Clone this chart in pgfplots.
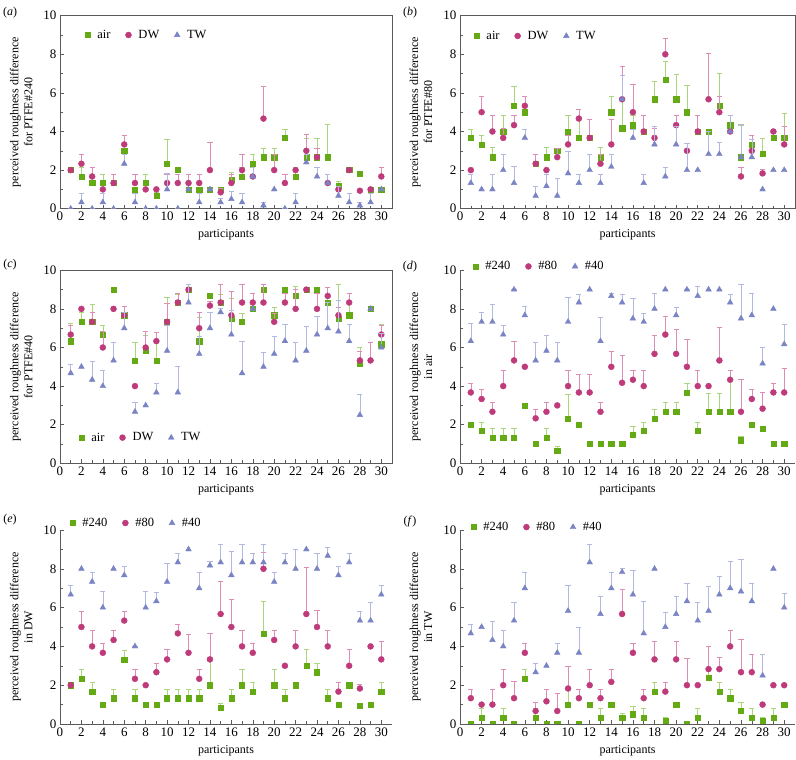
\documentclass[border=0pt]{standalone}
\usepackage{fontspec}
\setmainfont{Liberation Serif}
\usepackage{pgfplots}
\usepackage{pgfplotstable}
\pgfplotsset{compat=1.18}
\definecolor{cgreen}{RGB}{100,170,20}
\definecolor{cmag}{RGB}{190,58,122}
\definecolor{cblue}{RGB}{122,132,196}
\definecolor{cgreenL}{RGB}{172,214,125}
\definecolor{cmagL}{RGB}{222,142,182}
\definecolor{cblueL}{RGB}{178,185,224}
\definecolor{axc}{RGB}{90,90,90}

% air #240
\pgfplotstableread{
x y e
1 2.0 0
2 1.67 0.47
3 1.33 0.47
4 1.33 0.47
5 1.33 0.47
6 3.0 0
7 1.0 0
8 1.33 0.47
9 0.67 0.2
10 2.33 1.27
11 2.0 0
12 1.0 0
13 1.0 0
14 1.0 0
15 1.0 0
16 1.5 0.4
17 1.67 0.47
18 2.33 0.47
19 2.67 0.47
20 2.67 0.47
21 3.67 0.47
22 1.67 0.47
23 2.67 0.97
24 2.67 0.97
25 2.67 1.7
26 1.2 0.2
27 2.0 0
28 1.8 0.1
29 1.0 0
30 1.0 0
}\Atwo
% DW #240
\pgfplotstableread{
x y e
1 2.0 0
2 2.33 0.47
3 1.67 0.47
4 1.0 0
5 1.33 0.47
6 3.33 0.47
7 1.33 0.47
8 1.0 0
9 1.0 0
10 1.33 0.47
11 1.33 0.47
12 1.33 0.47
13 1.33 0.47
14 2.0 1.43
15 0.85 0.2
16 1.33 0.47
17 2.0 0.82
18 1.67 0.47
19 4.67 1.68
20 2.0 0.82
21 1.33 0.47
22 2.0 0
23 3.0 0.85
24 2.67 0.47
25 1.33 0.47
26 1.0 0
27 2.0 0
28 0.93 0.1
29 1.0 0
30 1.67 0.47
}\Dtwo
% TW #240
\pgfplotstableread{
x y e
1 0 0
2 0.33 0.47
3 0 0
4 0.33 0.47
5 0 0
6 2.33 0.47
7 0.33 0.47
8 0 0
9 0 0
10 1.0 0.83
11 0 0
12 1.0 0
13 0.33 0.47
14 1.0 0
15 0.33 0.2
16 0.5 0.4
17 0.33 0.47
18 1.67 0.47
19 0.17 0.17
20 1.0 0
21 0 0
22 0.33 0.47
23 2.4 0.43
24 1.67 0.47
25 1.33 0.47
26 0.67 0.47
27 0.33 0.47
28 0.17 0.17
29 0.33 0.47
30 1.0 0
}\Ttwo
% air #80
\pgfplotstableread{
x y e
1 3.67 0.47
2 3.33 0.5
3 2.67 0.5
4 4.0 0.83
5 5.33 1.0
6 5.0 0
7 2.33 0.47
8 2.67 0.5
9 3.0 0
10 4.0 0.83
11 3.67 0.95
12 3.67 0.95
13 2.67 0.5
14 5.0 0.83
15 4.17 1.43
16 4.33 0.5
17 4.0 0.83
18 5.67 0.95
19 6.67 0.95
20 5.67 1.27
21 5.0 1.42
22 4.0 0.83
23 4.0 0
24 5.33 1.7
25 4.33 0.5
26 2.67 1.67
27 3.33 0.5
28 2.83 0.83
29 3.67 0.47
30 3.67 1.25
}\Aeig
% DW #80
\pgfplotstableread{
x y e
1 2.0 0
2 5.0 0.82
3 4.0 0.83
4 3.67 0.48
5 4.33 0.5
6 5.33 0.48
7 2.33 0.47
8 2.0 0
9 2.67 0.47
10 3.33 0.5
11 4.67 0.48
12 3.67 0.98
13 2.33 0.47
14 3.33 1.33
15 5.67 1.7
16 5.0 1.43
17 4.0 0.83
18 3.67 0.48
19 8.0 0.85
20 4.33 0.5
21 3.0 0
22 4.0 0.83
23 5.67 2.4
24 5.0 0.85
25 4.0 0.83
26 1.67 0.47
27 3.0 0.83
28 1.83 0.2
29 4.0 0
30 3.33 0.95
}\Deig
% TW #80
\pgfplotstableread{
x y e
1 1.33 0.47
2 1.0 0
3 1.0 0.8
4 2.0 0.83
5 1.33 0.86
6 3.67 0.47
7 0.67 0.47
8 1.17 0.64
9 0.67 0.92
10 1.83 1.17
11 1.33 0.47
12 2.0 0.83
13 1.33 0.47
14 2.17 0.66
15 5.67 1.25
16 3.67 0.47
17 1.33 0.47
18 3.33 0.95
19 1.67 0.47
20 3.33 0.95
21 2.0 1.38
22 2.0 0
23 2.83 1.17
24 2.83 0.6
25 4.0 0.83
26 2.67 1.7
27 2.67 0.92
28 1.0 0
29 2.0 0
30 2.0 0
}\Teig
% air #40
\pgfplotstableread{
x y e
1 6.33 0.95
2 7.33 0.48
3 7.33 0.93
4 6.67 0.47
5 9.0 0
6 7.67 0.48
7 5.33 0.94
8 5.83 0.82
9 5.33 0.94
10 7.33 1.26
11 8.33 0.45
12 9.0 0
13 6.33 1.24
14 8.67 0.16
15 8.33 0.45
16 7.5 1.07
17 7.33 0.47
18 8.0 0.8
19 9.0 0
20 7.67 0.43
21 9.0 0
22 8.67 0.49
23 9.0 0
24 9.0 0
25 8.33 0.45
26 7.5 1.77
27 7.67 1.16
28 5.17 0.83
29 8.0 0
30 6.17 1.01
}\Afor
% DW #40
\pgfplotstableread{
x y e
1 6.67 0.48
2 8.0 0
3 7.33 0.49
4 6.0 0.83
5 8.0 0
6 7.67 0.48
7 4.0 0
8 6.0 0.83
9 6.33 0.48
10 7.33 0.97
11 8.33 0.48
12 9.0 0
13 7.0 0.82
14 8.17 0.22
15 8.33 0.95
16 7.67 1.24
17 8.33 0.93
18 8.33 0.46
19 8.33 0.93
20 7.33 0.47
21 8.33 0.46
22 8.0 1.03
23 9.0 0
24 8.0 0.81
25 8.67 0.45
26 7.67 0.44
27 8.33 0.46
28 5.33 0.46
29 5.33 0.95
30 6.67 0.48
}\Dfor
% TW #40
\pgfplotstableread{
x y e
1 4.67 0.48
2 5.0 0
3 4.33 0.95
4 4.0 0.82
5 5.33 0.93
6 7.0 0.82
7 2.67 0.47
8 3.0 0
9 3.67 0.47
10 5.83 1.3
11 3.67 1.34
12 8.33 0.95
13 5.67 0.93
14 7.0 0.81
15 7.83 0.21
16 6.67 1.24
17 4.67 1.67
18 8.0 0
19 5.0 0.76
20 5.67 0.91
21 6.33 0.9
22 5.33 0.93
23 5.83 1.29
24 6.67 0.93
25 7.0 1.37
26 6.83 1.64
27 6.33 0.9
28 2.5 1.07
29 8.0 0
30 6.0 0.76
}\Tfor

\pgfplotsset{
  panel/.style={
    scale only axis,
    xmin=0, xmax=31, ymin=0, ymax=10,
    xtick={0,2,...,30}, ytick={0,2,...,10},
    minor xtick={1,3,...,29}, minor ytick={1,3,...,9},
    tick align=inside, xtick pos=bottom, ytick pos=left,
    major tick length=4pt, minor tick length=3pt,
    axis line style={axc, line width=0.6pt},
    every tick/.style={axc, line width=0.5pt},
    /pgf/number format/assume math mode=true,
    font=\fontsize{12}{14}\selectfont,
    tick label style={font=\fontsize{13}{15}\selectfont},
    xlabel={participants},
    xlabel style={yshift=-2pt},
    ylabel style={align=center, at={(axis description cs:-0.072,0.5)}, anchor=south},
    clip marker paths=true,
    legend style={draw=none, fill=none, legend columns=-1, anchor=west,
      font=\fontsize{12.5}{14}\selectfont,
      /tikz/every odd column/.append style={column sep=5pt},
      /tikz/every even column/.append style={column sep=13pt}},
  },
  openaxis/.style={axis x line*=bottom, axis y line*=left},
  sg/.style={only marks, mark=square*, mark size=2.6pt, color=cgreen,
    error bars/.cd, y dir=plus, y explicit,
    error bar style={cgreenL, line width=0.5pt},
    error mark options={rotate=90, mark size=2.6pt, cgreenL, line width=0.5pt}},
  sm/.style={only marks, mark=*, mark size=3pt, color=cmag,
    error bars/.cd, y dir=plus, y explicit,
    error bar style={cmagL, line width=0.5pt},
    error mark options={rotate=90, mark size=2.6pt, cmagL, line width=0.5pt}},
  sb/.style={only marks, mark=triangle*, mark size=3.3pt, color=cblue,
    error bars/.cd, y dir=plus, y explicit,
    error bar style={cblueL, line width=0.5pt},
    error mark options={rotate=90, mark size=2.6pt, cblueL, line width=0.5pt}},
}

\begin{document}
\begin{tikzpicture}[font=\fontsize{12}{14}\selectfont]
\useasboundingbox (0pt,0pt) rectangle (796pt,760pt);

% (a)
\begin{axis}[panel, at={(60pt,551.3pt)}, anchor=south west, width=332pt, height=193pt,
  ylabel={perceived roughness difference\\for PTFE\#240},
  legend style={at={(axis description cs:0.066,0.9)}}]
\addplot[sg] table[x=x,y=y,y error=e]{\Atwo};
\addplot[sm] table[x=x,y=y,y error=e]{\Dtwo};
\addplot[sb] table[x=x,y=y,y error=e]{\Ttwo};
\legend{air,DW,TW}
\end{axis}

% (b)
\begin{axis}[panel, at={(460pt,551.3pt)}, anchor=south west, width=335pt, height=193pt,
  ylabel={perceived roughness difference\\for PTFE\#80},
  legend style={at={(axis description cs:0.033,0.895)}}]
\addplot[sg] table[x=x,y=y,y error=e]{\Aeig};
\addplot[sm] table[x=x,y=y,y error=e]{\Deig};
\addplot[sb] table[x=x,y=y,y error=e]{\Teig};
\legend{air,DW,TW}
\end{axis}

% (c)
\begin{axis}[panel, at={(60pt,296.7pt)}, anchor=south west, width=332pt, height=193pt,
  ylabel={perceived roughness difference\\for PTFE\#40},
  legend style={at={(axis description cs:0.048,0.133)}}]
\addplot[sg] table[x=x,y=y,y error=e]{\Afor};
\addplot[sm] table[x=x,y=y,y error=e]{\Dfor};
\addplot[sb] table[x=x,y=y,y error=e]{\Tfor};
\legend{air,DW,TW}
\end{axis}

% (d)
\begin{axis}[panel, openaxis, at={(460pt,296.7pt)}, anchor=south west, width=335pt, height=193pt,
  ylabel={perceived roughness difference\\in air},
  legend style={at={(axis description cs:0.03,1.02)}}]
\addplot[sg] table[x=x,y=y,y error=e]{\Atwo};
\addplot[sm] table[x=x,y=y,y error=e]{\Aeig};
\addplot[sb] table[x=x,y=y,y error=e]{\Afor};
\legend{\#240,\#80,\#40}
\end{axis}

% (e)
\begin{axis}[panel, openaxis, at={(60pt,36pt)}, anchor=south west, width=332pt, height=194pt,
  ylabel={perceived roughness difference\\in DW},
  legend style={at={(axis description cs:0.021,1.036)}}]
\addplot[sg] table[x=x,y=y,y error=e]{\Dtwo};
\addplot[sm] table[x=x,y=y,y error=e]{\Deig};
\addplot[sb] table[x=x,y=y,y error=e]{\Dfor};
\legend{\#240,\#80,\#40}
\end{axis}

% (f)
\begin{axis}[panel, openaxis, at={(460pt,36pt)}, anchor=south west, width=335pt, height=194pt,
  ylabel={perceived roughness difference\\in TW},
  legend style={at={(axis description cs:0.024,1.015)}}]
\addplot[sg] table[x=x,y=y,y error=e]{\Ttwo};
\addplot[sm] table[x=x,y=y,y error=e]{\Teig};
\addplot[sb] table[x=x,y=y,y error=e]{\Tfor};
\legend{\#240,\#80,\#40}
\end{axis}

\node at (10pt,747pt) {(\textit{a})};
\node at (410pt,747pt) {(\textit{b})};
\node at (10pt,495pt) {(\textit{c})};
\node at (410pt,493pt) {(\textit{d})};
\node at (10pt,240pt) {(\textit{e})};
\node at (410pt,238pt) {(\textit{f})};
\end{tikzpicture}
\end{document}
